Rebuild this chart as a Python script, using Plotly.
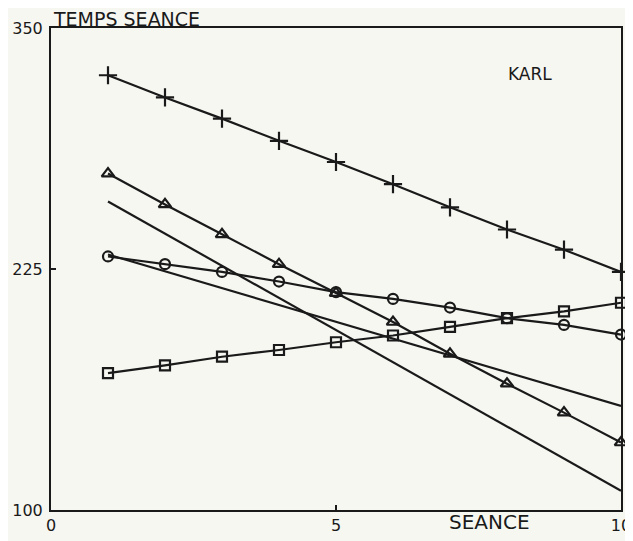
import plotly.graph_objects as go

seance = [1, 2, 3, 4, 5, 6, 7, 8, 9, 10]
plus_vals = [325.5, 314, 303, 291.5, 280.5, 269, 257, 245.5, 235, 223.5]
tri_vals = [274.5, 258.5, 243, 227.5, 212.5, 197.5, 181, 165.5, 150.5, 135]
circ_vals = [231.5, 227.5, 223.5, 218.5, 213, 209.5, 205, 199.5, 196, 191]
sq_vals = [171, 175, 179.5, 183, 187, 190.5, 195, 199.5, 203, 207.5]
line_x = [1, 10]
line_a = [260, 110]
line_b = [232.5, 154]

x_ticks = [0, 5, 10]
y_ticks = [100, 225, 350]

INK = "#1a1a1a"
PAPER = "#f7f7f2"
FONT = "DejaVu Sans"

fig = go.Figure()

def add(x, y, symbol=None, size=10):
    mode = "lines" if symbol is None else "lines+markers"
    fig.add_trace(go.Scatter(
        x=x, y=y, mode=mode,
        line=dict(color=INK, width=2.2),
        marker=dict(symbol=symbol or "circle", size=size, color=INK,
                    line=dict(color=INK, width=2.2)),
        showlegend=False, cliponaxis=False,
    ))

add(seance, plus_vals, "cross-thin", 13)
add(seance, tri_vals, "triangle-up-open", 11)
add(line_x, line_a)
add(line_x, line_b)
add(seance, circ_vals, "circle-open", 10)
add(seance, sq_vals, "square-open", 10)

axis_common = dict(
    showline=True, linecolor=INK, linewidth=2, mirror=True,
    showgrid=False, zeroline=False, automargin=False,
    ticks="inside", ticklen=5, tickwidth=2, tickcolor=INK,
    tickfont=dict(family=FONT, size=16, color=INK),
)

fig.update_xaxes(range=[0, 10], tickvals=x_ticks,
                 ticktext=[str(v) for v in x_ticks], **axis_common)
fig.update_yaxes(range=[100, 350], tickvals=y_ticks,
                 ticktext=[str(v) for v in y_ticks],
                 ticklabelstandoff=3, **axis_common)

fig.add_annotation(text="TEMPS SEANCE", xref="paper", yref="paper",
                   x=0.0, y=1.0, xanchor="left", yanchor="bottom",
                   xshift=0, yshift=-4, showarrow=False,
                   font=dict(family=FONT, size=19, color=INK))
fig.add_annotation(text="SEANCE", xref="paper", yref="paper",
                   x=0.77, y=0.0, xanchor="center", yanchor="top",
                   yshift=2, showarrow=False,
                   font=dict(family=FONT, size=20, color=INK))
fig.add_annotation(text="KARL", xref="paper", yref="paper",
                   x=0.84, y=0.905, xanchor="center", yanchor="middle",
                   showarrow=False,
                   font=dict(family=FONT, size=17, color=INK))

# page body has an 8px margin: size and margins account for it
fig.update_layout(
    width=625, height=533,
    margin=dict(l=43, r=12, t=20, b=31, autoexpand=False),
    paper_bgcolor=PAPER, plot_bgcolor=PAPER,
)

fig.write_html("out.html")
